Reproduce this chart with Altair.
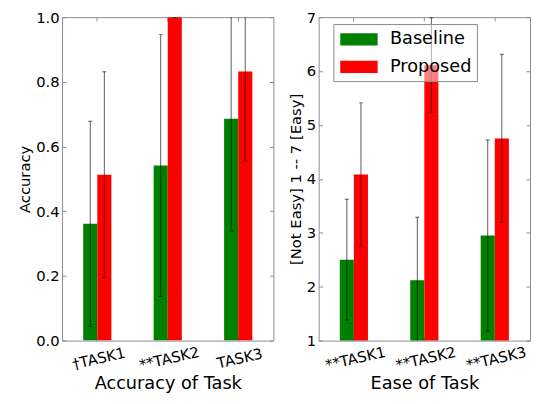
import altair as alt
import pandas as pd

series = ["Baseline", "Proposed"]
colors = ["#008000", "#ff0000"]

acc_tasks = ["†TASK1", "**TASK2", "TASK3"]
acc_baseline = [0.361, 0.541, 0.686]
acc_baseline_err = [0.317, 0.405, 0.347]
acc_proposed = [0.513, 1.0, 0.832]
acc_proposed_err = [0.318, 0.0, 0.277]
acc_ticks = [0.0, 0.2, 0.4, 0.6, 0.8, 1.0]

ease_tasks = ["**TASK1", "**TASK2", "**TASK3"]
ease_baseline = [2.50, 2.12, 2.95]
ease_baseline_err = [1.12, 1.17, 1.77]
ease_proposed = [4.08, 6.11, 4.75]
ease_proposed_err = [1.33, 0.88, 1.56]
ease_ticks = [1, 2, 3, 4, 5, 6, 7]

W, H = 215, 329
FRAME = "#8c8c8c"
FONT = "DejaVu Sans"
# offset slots: an empty slot on each side leaves each bar 0.2 of a category band
offset_slots = ["_pad_l"] + series + ["_pad_r"]


def make_df(tasks, base, base_err, prop, prop_err):
    rows = []
    for name, vals, errs in (("Baseline", base, base_err), ("Proposed", prop, prop_err)):
        for t, m, e in zip(tasks, vals, errs):
            rows.append(dict(task=t, series=name, value=m, lo=m - e, hi=m + e))
    return pd.DataFrame(rows)


def caps_df(df):
    a = df[["task", "series", "lo"]].rename(columns={"lo": "cap"})
    b = df[["task", "series", "hi"]].rename(columns={"hi": "cap"})
    return pd.concat([a, b], ignore_index=True)


def panel(df, tasks, ticks, ytitle, xtitle, yfmt, legend):
    yscale = alt.Scale(domain=[ticks[0], ticks[-1]], nice=False, zero=False)
    xscale = alt.Scale(domain=tasks, paddingInner=0, paddingOuter=0)
    xoff = alt.XOffset("series:N", scale=alt.Scale(domain=offset_slots, paddingInner=0, paddingOuter=0.5))
    tick_only = dict(labels=False, title=None, domain=False, ticks=True, tickSize=4,
                     tickColor=FRAME, tickWidth=1, grid=False)

    bars = alt.Chart(df).mark_bar(clip=True).encode(
        x=alt.X("task:N", scale=xscale, sort=tasks,
                axis=alt.Axis(orient="bottom", title=xtitle, labelAngle=347, labelAlign="center",
                              labelBaseline="top", ticks=False,
                              domain=False, labelFontSize=15, labelFont=FONT, labelColor="#000",
                              labelPadding=11, titleFontSize=18, titleFont=FONT,
                              titleFontWeight="normal", titleColor="#000", titlePadding=2)),
        xOffset=xoff,
        y=alt.Y("value:Q", scale=yscale,
                axis=alt.Axis(orient="left", title=ytitle, values=ticks, format=yfmt, ticks=False,
                              domain=False, grid=False, labelFontSize=15, labelFont=FONT,
                              labelColor="#000", labelPadding=3, titleFontSize=15,
                              titleFont=FONT, titleFontWeight="normal", titleColor="#000",
                              titlePadding=3)),
        color=alt.Color("series:N", scale=alt.Scale(domain=series, range=colors), legend=legend),
    )
    rules = alt.Chart(df).mark_rule(clip=True, color="#000", opacity=0.65, strokeWidth=1).encode(
        x=alt.X("task:N", scale=xscale, sort=tasks,
                axis=alt.Axis(orient="top", offset=-H, **tick_only)),
        xOffset=xoff,
        y=alt.Y("lo:Q", scale=yscale,
                axis=alt.Axis(orient="right", offset=-W, values=ticks, **tick_only)),
        y2="hi:Q",
    )
    caps = alt.Chart(caps_df(df)).mark_tick(clip=True, color="#000", opacity=0.65,
                                            thickness=1, size=4).encode(
        x=alt.X("task:N", scale=xscale, sort=tasks,
                axis=alt.Axis(orient="bottom", offset=-H, **tick_only)),
        xOffset=xoff,
        y=alt.Y("cap:Q", scale=yscale,
                axis=alt.Axis(orient="left", offset=-W, values=ticks, **tick_only)),
    )
    return alt.layer(bars, rules, caps).resolve_axis(x="independent", y="independent").properties(
        width=W, height=H)


acc_df = make_df(acc_tasks, acc_baseline, acc_baseline_err, acc_proposed, acc_proposed_err)
ease_df = make_df(ease_tasks, ease_baseline, ease_baseline_err, ease_proposed, ease_proposed_err)

legend = alt.Legend(orient="none", legendX=15, legendY=7, title=None,
                    symbolType="M-1.81,-0.595L1.81,-0.595L1.81,0.595L-1.81,0.595Z",
                    symbolSize=441, symbolStrokeWidth=0, symbolOpacity=1,
                    symbolOffset=10.5, labelOffset=21, labelFontSize=18, labelFont=FONT,
                    labelColor="#000", fillColor="rgba(255,255,255,0.5)", strokeColor=FRAME,
                    padding=5, rowPadding=8, cornerRadius=0)

left = panel(acc_df, acc_tasks, acc_ticks, "Accuracy", "Accuracy of Task", ".1f", None)
right = panel(ease_df, ease_tasks, ease_ticks, "[Not Easy] 1 -- 7 [Easy]", "Ease of Task", "d", legend)

chart = alt.hconcat(left, right, spacing=13).resolve_legend(color="independent").configure_view(
    stroke=FRAME, strokeWidth=1).properties(
    padding={"left": 9, "top": -2, "right": 0, "bottom": -3}, background="white")

chart.save("out.html", embed_options={"renderer": "svg", "actions": False})
